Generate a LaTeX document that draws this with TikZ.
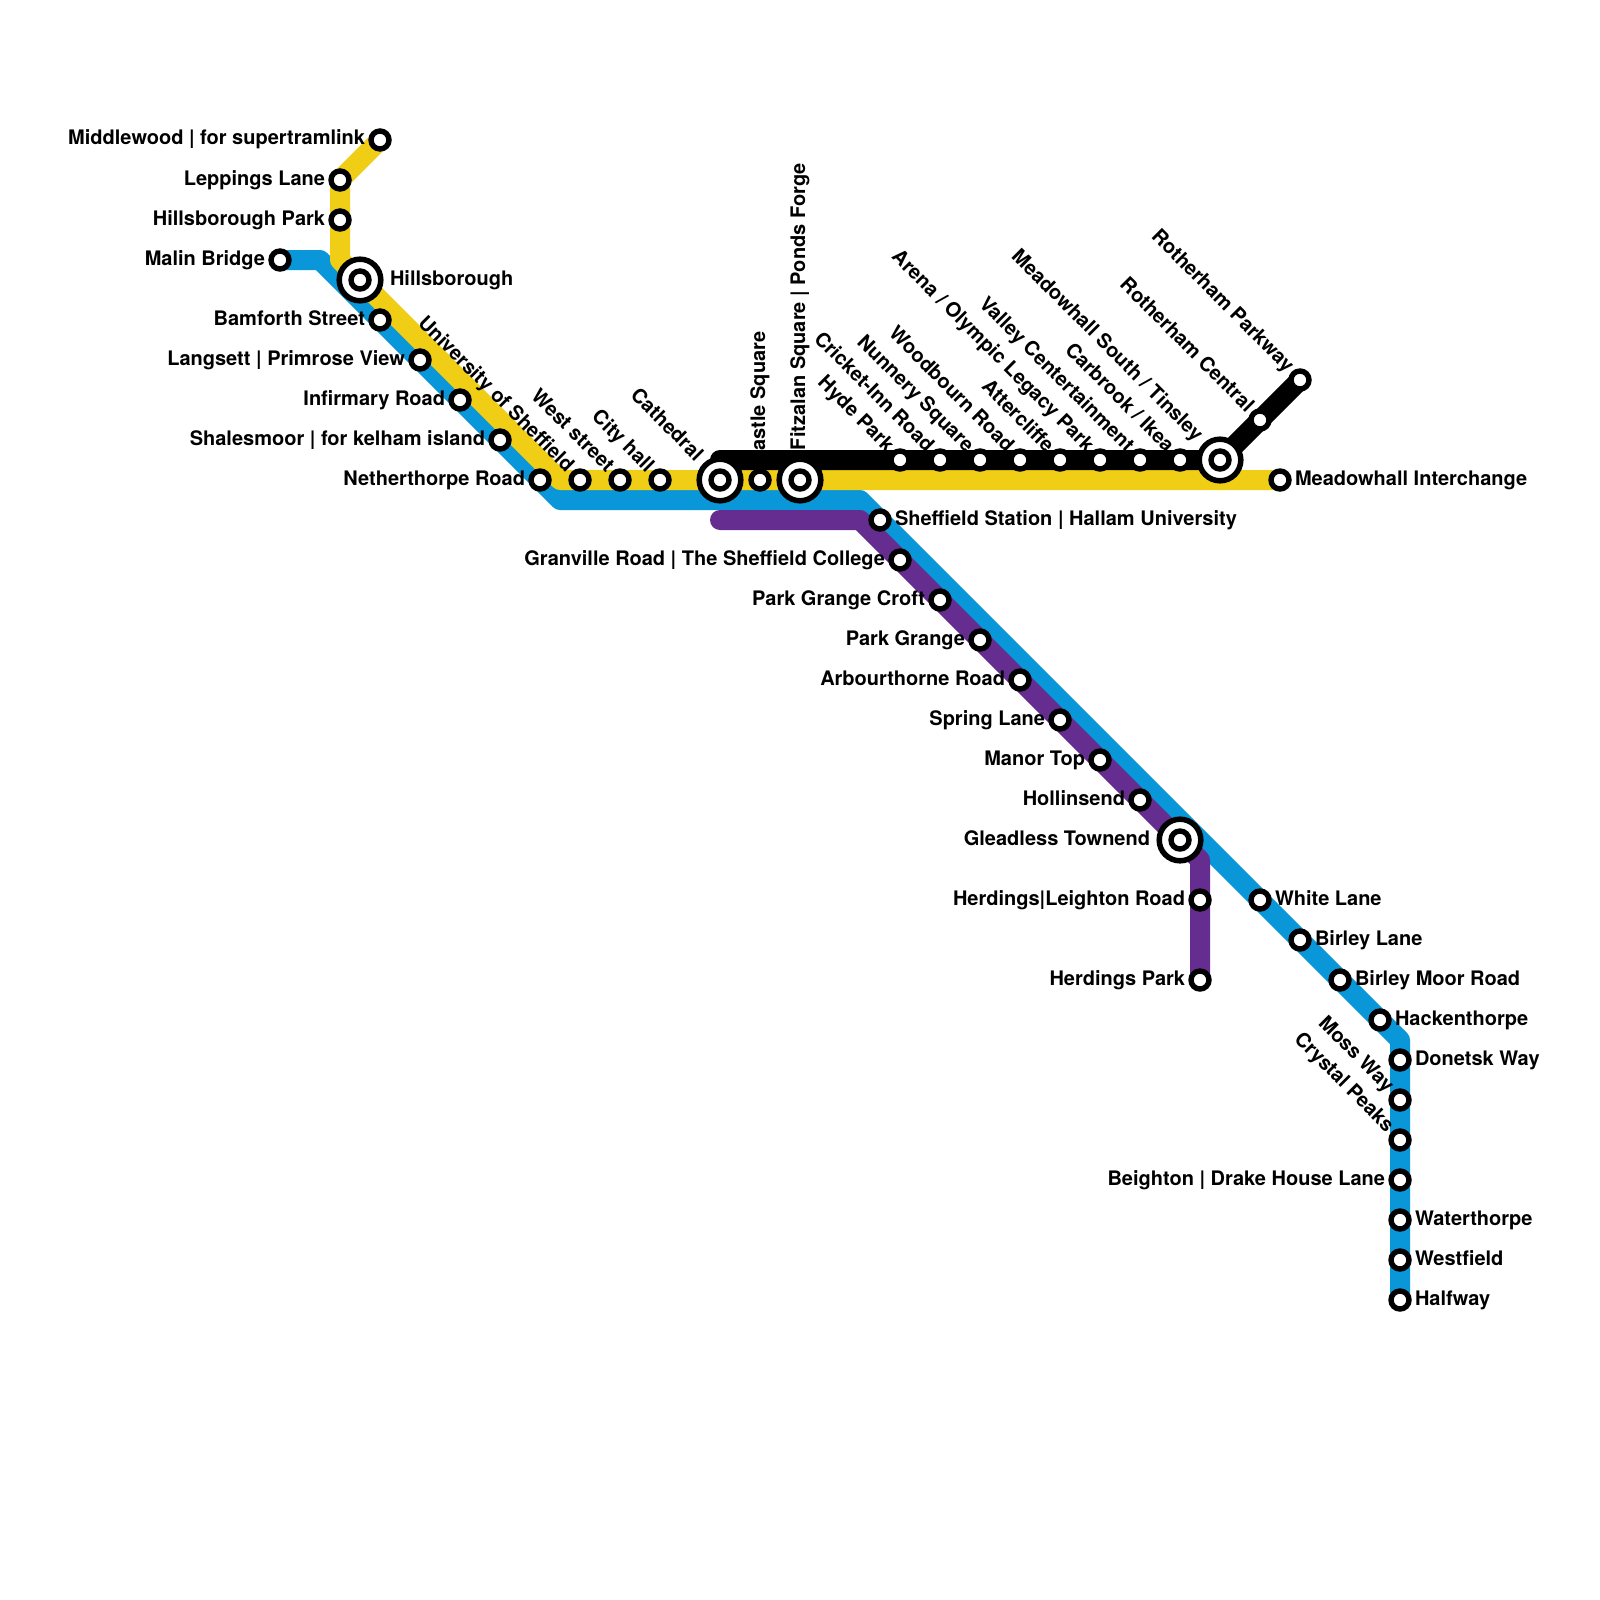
\documentclass[tikz,border=0pt]{standalone}
\usepackage{fontspec}
\setmainfont{TeX Gyre Heros}
\pgfdeclarelayer{lowlines}
\pgfdeclarelayer{labeltext}
\pgfdeclarelayer{blackline}
\pgfsetlayers{lowlines,labeltext,blackline,main}
\definecolor{lineblue}{HTML}{0A97D9}
\definecolor{lineyellow}{HTML}{F0CE15}
\definecolor{linepurple}{HTML}{662D91}
\tikzset{
  stn/.style={circle,draw=black,fill=white,line width=5.4pt,minimum size=18pt,inner sep=0pt,outer sep=0pt},
  hubring/.style={circle,draw=black,fill=white,line width=5.5pt,minimum size=41.6pt,inner sep=0pt,outer sep=0pt},
  route/.style={line width=20pt,line cap=round,line join=round},
  lbl/.style={font=\fontsize{20}{24}\selectfont\bfseries,inner sep=0pt,outer sep=0pt,text=black},
  lblR/.style={lbl,anchor=base west},
  lblL/.style={lbl,anchor=base east},
  lblD/.style={lbl,anchor=base east,rotate=-45},
  lblU/.style={lbl,anchor=base west,rotate=90},
}
% plain station: name, x, y
\newcommand{\Stn}[3]{\node[stn] (#1) at (#2,#3) {};}
% interchange: name, x, y
\newcommand{\Hub}[3]{\node[hubring] (#1) at (#2,#3) {}; \node[stn] (#1in) at (#2,#3) {};}
% label: station name, style, dx, dy, text
\newcommand{\Lab}[5]{\begin{pgfonlayer}{labeltext}\node[#2] (#1txt) at ([shift={(#3,#4)}]#1.center) {#5};\end{pgfonlayer}}
\begin{document}
\begin{tikzpicture}[x=1pt,y=-1pt]
\useasboundingbox (0,0) rectangle (1600,1600);
\begin{pgfonlayer}{lowlines}
\fill[white] (0,0) rectangle (1600,1600);
\end{pgfonlayer}
% stations
\Stn{middlewood}{380}{140}\Lab{middlewood}{lblL}{-15}{5}{Middlewood | for supertramlink}
\Stn{leppings}{340}{180}\Lab{leppings}{lblL}{-15}{5}{Leppings Lane}
\Stn{hillspark}{340}{220}\Lab{hillspark}{lblL}{-15}{5}{Hillsborough Park}
\Stn{malin}{280}{260}\Lab{malin}{lblL}{-15}{5}{Malin Bridge}
\Hub{hillsborough}{360}{280}\Lab{hillsborough}{lblR}{30}{5}{Hillsborough}
\Stn{bamforth}{380}{320}\Lab{bamforth}{lblL}{-15}{5}{Bamforth Street}
\Stn{langsett}{420}{360}\Lab{langsett}{lblL}{-15}{5}{Langsett | Primrose View}
\Stn{infirmary}{460}{400}\Lab{infirmary}{lblL}{-15}{5}{Infirmary Road}
\Stn{shalesmoor}{500}{440}\Lab{shalesmoor}{lblL}{-15}{5}{Shalesmoor | for kelham island}
\Stn{netherthorpe}{540}{480}\Lab{netherthorpe}{lblL}{-15}{5}{Netherthorpe Road}
\Stn{university}{580}{480}\Lab{university}{lblD}{-14}{-7}{University of Sheffield}
\Stn{weststreet}{620}{480}\Lab{weststreet}{lblD}{-14}{-7}{West street}
\Stn{cityhall}{660}{480}\Lab{cityhall}{lblD}{-14}{-7}{City hall}
\Hub{cathedral}{720}{480}\Lab{cathedral}{lblD}{-25}{-18}{Cathedral}
\Stn{castle}{760}{480}\Lab{castle}{lblU}{5}{-15}{Castle Square}
\Hub{fitzalan}{800}{480}\Lab{fitzalan}{lblU}{5}{-30}{Fitzalan Square | Ponds Forge}
\Stn{hyde}{900}{460}\Lab{hyde}{lblD}{-14}{-7}{Hyde Park}
\Stn{cricket}{940}{460}\Lab{cricket}{lblD}{-14}{-7}{Cricket-Inn Road}
\Stn{nunnery}{980}{460}\Lab{nunnery}{lblD}{-14}{-7}{Nunnery Square}
\Stn{woodbourn}{1020}{460}\Lab{woodbourn}{lblD}{-14}{-7}{Woodbourn Road}
\Stn{attercliffe}{1060}{460}\Lab{attercliffe}{lblD}{-14}{-7}{Attercliffe}
\Stn{arena}{1100}{460}\Lab{arena}{lblD}{-14}{-7}{Arena / Olympic Legacy Park}
\Stn{valley}{1140}{460}\Lab{valley}{lblD}{-14}{-7}{Valley Centertainment}
\Stn{carbrook}{1180}{460}\Lab{carbrook}{lblD}{-14}{-7}{Carbrook / Ikea}
\Hub{mhsouth}{1220}{460}\Lab{mhsouth}{lblD}{-25}{-18}{Meadowhall South / Tinsley}
\Stn{rothcentral}{1260}{420}\Lab{rothcentral}{lblD}{-14}{-7}{Rotherham Central}
\Stn{rothparkway}{1300}{380}\Lab{rothparkway}{lblD}{-14}{-7}{Rotherham Parkway}
\Stn{mhint}{1280}{480}\Lab{mhint}{lblR}{15}{5}{Meadowhall Interchange}
\Stn{sheffield}{880}{520}\Lab{sheffield}{lblR}{15}{5}{Sheffield Station | Hallam University}
\Stn{granville}{900}{560}\Lab{granville}{lblL}{-15}{5}{Granville Road | The Sheffield College}
\Stn{pgcroft}{940}{600}\Lab{pgcroft}{lblL}{-15}{5}{Park Grange Croft}
\Stn{pgrange}{980}{640}\Lab{pgrange}{lblL}{-15}{5}{Park Grange}
\Stn{arbour}{1020}{680}\Lab{arbour}{lblL}{-15}{5}{Arbourthorne Road}
\Stn{spring}{1060}{720}\Lab{spring}{lblL}{-15}{5}{Spring Lane}
\Stn{manor}{1100}{760}\Lab{manor}{lblL}{-15}{5}{Manor Top}
\Stn{hollinsend}{1140}{800}\Lab{hollinsend}{lblL}{-15}{5}{Hollinsend}
\Hub{gleadless}{1180}{840}\Lab{gleadless}{lblL}{-30}{5}{Gleadless Townend}
\Stn{herdleighton}{1200}{900}\Lab{herdleighton}{lblL}{-15}{5}{Herdings|Leighton Road}
\Stn{herdpark}{1200}{980}\Lab{herdpark}{lblL}{-15}{5}{Herdings Park}
\Stn{white}{1260}{900}\Lab{white}{lblR}{15}{5}{White Lane}
\Stn{birley}{1300}{940}\Lab{birley}{lblR}{15}{5}{Birley Lane}
\Stn{birleymoor}{1340}{980}\Lab{birleymoor}{lblR}{15}{5}{Birley Moor Road}
\Stn{hacken}{1380}{1020}\Lab{hacken}{lblR}{15}{5}{Hackenthorpe}
\Stn{donetsk}{1400}{1060}\Lab{donetsk}{lblR}{15}{5}{Donetsk Way}
\Stn{moss}{1400}{1100}\Lab{moss}{lblD}{-14}{-7}{Moss Way}
\Stn{crystal}{1400}{1140}\Lab{crystal}{lblD}{-14}{-7}{Crystal Peaks}
\Stn{beighton}{1400}{1180}\Lab{beighton}{lblL}{-15}{5}{Beighton | Drake House Lane}
\Stn{waterthorpe}{1400}{1220}\Lab{waterthorpe}{lblR}{15}{5}{Waterthorpe}
\Stn{westfield}{1400}{1260}\Lab{westfield}{lblR}{15}{5}{Westfield}
\Stn{halfway}{1400}{1300}\Lab{halfway}{lblR}{15}{5}{Halfway}
% free bends and line ends
\coordinate (bluea) at (320,260);
\coordinate (blueb) at (560,500);
\coordinate (bluec) at (860,500);
\coordinate (blued) at (1400,1040);
\coordinate (purplea) at (720,520);
\coordinate (purpleb) at (860,520);
\coordinate (purplec) at (1200,860);
\coordinate (yellowa) at (340,260);
\coordinate (yellowb) at (560,480);
\coordinate (blacka) at (720,460);
% routes
\begin{pgfonlayer}{lowlines}
\draw[route,lineblue] (malin.center) -- (bluea) -- (blueb) -- (bluec) -- (blued) -- (halfway.center);
\draw[route,linepurple] (purplea) -- (purpleb) -- (purplec) -- (herdpark.center);
\draw[route,lineyellow] (middlewood.center) -- (leppings.center) -- (yellowa) -- (yellowb) -- (mhint.center);
\end{pgfonlayer}
\begin{pgfonlayer}{blackline}
\draw[route,black] (blacka) -- (mhsouth.center) -- (rothparkway.center);
\end{pgfonlayer}
\end{tikzpicture}
\end{document}
